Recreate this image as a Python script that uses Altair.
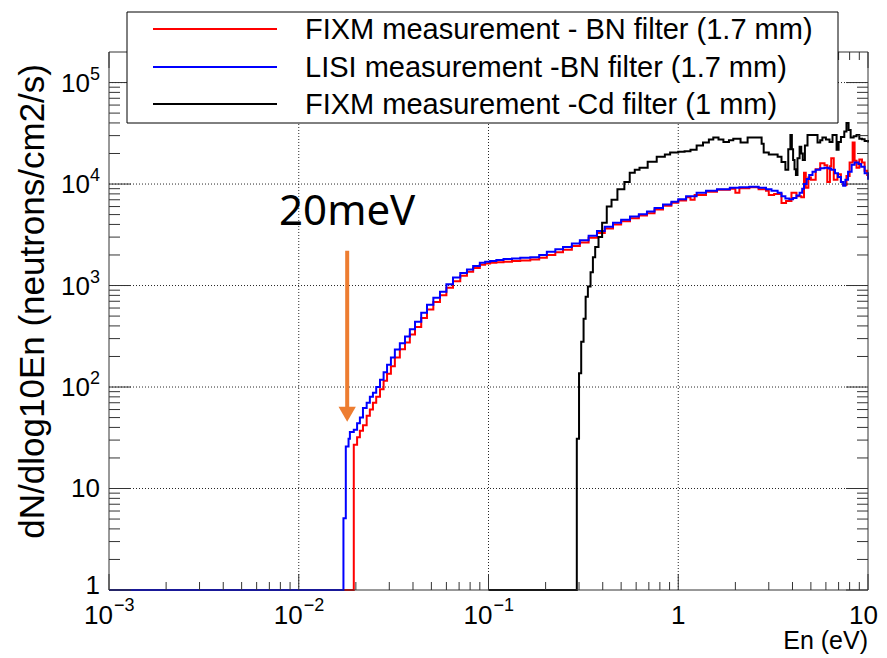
import altair as alt
import pandas as pd

# ---------------- data ----------------
red_E = [0.001, 0.0195, 0.0203, 0.021, 0.0218, 0.0228, 0.0237, 0.0246, 0.0256, 0.0268, 0.028, 0.0292,
         0.0306, 0.0321, 0.0341, 0.0363, 0.0385, 0.041, 0.0442, 0.0474, 0.0512, 0.0555, 0.06, 0.065,
         0.071, 0.077, 0.083, 0.090, 0.096, 0.102, 0.11, 0.12, 0.133, 0.147, 0.166, 0.185, 0.203,
         0.225, 0.247, 0.275, 0.303, 0.337, 0.373, 0.41, 0.453, 0.50, 0.557, 0.62, 0.684, 0.75,
         0.831, 0.92, 1.0, 1.1, 1.16, 1.22, 1.4, 1.6, 1.87, 2.0, 2.1, 2.37, 2.65, 2.9, 3.0, 3.2,
         3.5, 3.7, 3.95, 4.2, 4.45, 4.6, 4.7, 4.85, 5.0, 5.3, 5.6, 5.9, 6.1, 6.3, 6.4, 6.6, 6.9,
         7.2, 7.4, 7.7, 8.0, 8.3, 8.5, 8.7, 9.0, 9.3, 9.6, 9.9, 10.0]
red_v = [1, 27, 32, 37, 42, 52, 60, 70, 80, 95, 115, 135,
         160, 195, 235, 275, 330, 390, 480, 580, 690, 800, 950, 1100,
         1250, 1370, 1490, 1600, 1650, 1680, 1700, 1720, 1740, 1760, 1800, 1880, 2000,
         2130, 2250, 2450, 2650, 2950, 3300, 3650, 4000, 4300, 4600, 4900, 5150, 5600,
         6100, 6550, 6900, 7400, 7000, 7800, 8400, 8800, 9000, 8200, 9100, 9300, 8900, 8600, 7800, 8000,
         6500, 6800, 8200, 7600, 7400, 12900, 9200, 11600, 11000, 14000, 16000, 15300, 10500, 15000, 18000, 11000, 12500,
         10500, 9800, 12000, 16300, 25700, 17000, 14500, 17500, 16300, 13500, 12300, 12000]

blue_E = [0.001, 0.0172, 0.0177, 0.0183, 0.0186, 0.0195, 0.0203, 0.021, 0.0218, 0.0228, 0.0237, 0.0246,
          0.0256, 0.0268, 0.028, 0.0292, 0.0306, 0.0321, 0.0341, 0.0363, 0.0385, 0.041, 0.0442, 0.0474,
          0.0512, 0.0555, 0.06, 0.065, 0.071, 0.077, 0.083, 0.090, 0.096, 0.102, 0.11, 0.12, 0.133,
          0.147, 0.166, 0.185, 0.203, 0.225, 0.247, 0.275, 0.303, 0.337, 0.373, 0.41, 0.453, 0.50,
          0.557, 0.62, 0.684, 0.75, 0.831, 0.92, 1.0, 1.1, 1.25, 1.4, 1.6, 1.87, 2.1, 2.37, 2.65,
          2.9, 3.1, 3.34, 3.5, 3.67, 3.85, 4.03, 4.2, 4.36, 4.5, 4.6, 4.75, 4.9, 5.1, 5.3, 5.6, 5.9,
          6.2, 6.4, 6.7, 6.95, 7.2, 7.4, 7.6, 7.85, 8.2, 8.5, 8.9, 9.2, 9.6, 10.0]
blue_v = [1, 5.1, 26, 31, 36, 38, 44, 50, 62, 70, 80, 88,
          100, 118, 140, 166, 195, 234, 270, 314, 370, 440, 540, 647,
          760, 870, 1030, 1200, 1330, 1440, 1560, 1680, 1720, 1740, 1780, 1830, 1850,
          1880, 1900, 2000, 2150, 2280, 2400, 2600, 2800, 3100, 3450, 3800, 4150, 4450,
          4800, 5050, 5350, 5800, 6300, 6700, 7100, 7600, 8200, 8600, 8900, 9200, 9300, 9400, 9200,
          8900, 8600, 8200, 7600, 7200, 7100, 7300, 7700, 8200, 9000, 10000, 11200, 12300, 13200, 13800, 14300, 14500,
          14200, 13800, 12800, 11700, 10500, 9600, 11000, 13200, 15500, 16300, 15800, 14800, 12800, 11000]

black_E = [0.1, 0.292, 0.300, 0.308, 0.317, 0.325, 0.334, 0.345, 0.355, 0.365, 0.38, 0.397, 0.42,
           0.445, 0.478, 0.52, 0.555, 0.59, 0.625, 0.69, 0.77, 0.85, 0.906, 1.0, 1.08, 1.16, 1.25,
           1.35, 1.45, 1.53, 1.63, 1.73, 1.85, 1.95, 2.13, 2.32, 2.62, 2.75, 2.82, 3.0, 3.34, 3.5,
           3.67, 3.8, 3.9, 3.97, 4.03, 4.1, 4.17, 4.25, 4.36, 4.45, 4.53, 4.65, 4.8, 5.1, 5.42, 5.6,
           5.75, 6.0, 6.27, 6.5, 6.83, 7.0, 7.2, 7.5, 7.7, 7.9, 8.1, 8.4, 8.7, 9.0, 9.3, 9.6, 10.0]
black_v = [1, 31, 137, 280, 470, 775, 980, 1350, 1900, 2400, 3000, 4150, 6000,
           7000, 8900, 10500, 12900, 13800, 14500, 16600, 18600, 19500, 20400, 20800, 21000, 21800, 24000,
           25700, 27500, 28700, 27500, 26000, 27000, 28000, 25700, 28700, 28700, 25000, 20400, 19500, 18600, 16500,
           13800, 22000, 30500, 22000, 17300, 14000, 12300, 18000, 23300, 20000, 17300, 24000, 30500, 30500, 25700, 27000,
           28700, 27500, 26000, 30500, 21800, 26000, 29000, 33000, 40000, 34000, 28700, 29500, 30500, 28000, 27600, 26500, 25700]

legend_labels = ["FIXM measurement - BN filter (1.7 mm)",
                 "LISI measurement -BN filter (1.7 mm)",
                 "FIXM measurement -Cd filter (1 mm)"]
legend_colors = ["#ff0000", "#0000ff", "#000000"]

x_decades = [0.001, 0.01, 0.1, 1, 10]
x_label_base = ["10", "10", "10", "1", "10"]
x_label_exp = ["\u22123", "\u22122", "\u22121", "", ""]
y_decades = [1, 10, 100, 1000, 10000, 100000]
y_label_base = ["1", "10", "10", "10", "10", "10"]
y_label_exp = ["", "", "2", "3", "4", "5"]

annot_text = "20meV"
annot_E = 0.018
arrow_top = 2200
arrow_head = 54

# ---------------- layout ----------------
W, H = 759, 538
FONT = "Liberation Sans"
xs = alt.Scale(type="log", domain=[1e-3, 10], nice=False)
ys = alt.Scale(type="log", domain=[1, 2.0e5], nice=False)


def X(field):
    return alt.X(field, type="quantitative", scale=xs, axis=None)


def Y(field):
    return alt.Y(field, type="quantitative", scale=ys, axis=None)


def series_df(E, v):
    return pd.DataFrame({"E": E, "v": v})


def line(E, v, color):
    return alt.Chart(series_df(E, v)).mark_line(
        interpolate="step-after", color=color, strokeWidth=2
    ).encode(x=X("E"), y=Y("v"))


# dotted grid at decades
gx = pd.DataFrame({"E": x_decades[1:-1]})
gy = pd.DataFrame({"v": y_decades[1:]})
grid_x = alt.Chart(gx).mark_rule(color="#000", strokeWidth=1, strokeDash=[1, 2], opacity=0.85).encode(
    x=X("E"), y=alt.value(0), y2=alt.value(H))
grid_y = alt.Chart(gy).mark_rule(color="#000", strokeWidth=1, strokeDash=[1, 2], opacity=0.85).encode(
    y=Y("v"), x=alt.value(0), x2=alt.value(W))

# ticks
xt = [m * 10 ** k for k in range(-3, 1) for m in range(1, 10)] + [10]
xt_major = [t for t in xt if t in x_decades]
xt_minor = [t for t in xt if t not in x_decades]
yt = [m * 10 ** k for k in range(0, 5) for m in range(1, 10)] + [1e5]
yt_major = [t for t in yt if t in y_decades]
yt_minor = [t for t in yt if t not in y_decades]

TICK = "#333"


def xticks(vals, length):
    d = pd.DataFrame({"E": vals})
    b = alt.Chart(d).mark_rule(color=TICK, strokeWidth=1).encode(
        x=X("E"), y=alt.value(H), y2=alt.value(H - length))
    t = alt.Chart(d).mark_rule(color=TICK, strokeWidth=1).encode(
        x=X("E"), y=alt.value(0), y2=alt.value(length))
    return [b, t]


def yticks(vals, length):
    d = pd.DataFrame({"v": vals})
    l = alt.Chart(d).mark_rule(color=TICK, strokeWidth=1).encode(
        y=Y("v"), x=alt.value(0), x2=alt.value(length))
    r = alt.Chart(d).mark_rule(color=TICK, strokeWidth=1).encode(
        y=Y("v"), x=alt.value(W - length), x2=alt.value(W))
    return [l, r]


# labels
xl = pd.DataFrame({"E": x_decades, "b": x_label_base, "e": x_label_exp})
xl_exp = xl[xl["e"] != ""]
xl_mid = xl[(xl["e"] == "") & (xl["E"] < 10)]
xl_last = xl[(xl["e"] == "") & (xl["E"] >= 10)]
XLB = H + 34
x_lab_base = alt.Chart(xl_exp).mark_text(font=FONT, fontSize=26, align="right", dx=4, baseline="alphabetic").encode(
    x=X("E"), y=alt.value(XLB), text="b:N")
x_lab_exp = alt.Chart(xl_exp).mark_text(font=FONT, fontSize=18, align="left", dx=5, baseline="alphabetic").encode(
    x=X("E"), y=alt.value(XLB - 13), text="e:N")
x_lab_plain = alt.Chart(xl_mid).mark_text(font=FONT, fontSize=26, align="center", baseline="alphabetic").encode(
    x=X("E"), y=alt.value(XLB), text="b:N")
x_lab_last = alt.Chart(xl_last).mark_text(font=FONT, fontSize=26, align="right", dx=10, baseline="alphabetic").encode(
    x=X("E"), y=alt.value(XLB), text="b:N")

yl = pd.DataFrame({"v": y_decades, "b": y_label_base, "e": y_label_exp})
yl_exp = yl[yl["e"] != ""]
yl_plain = yl[yl["e"] == ""]
yl_ten = yl_plain[yl_plain["v"] > 1]
yl_one = yl_plain[yl_plain["v"] <= 1]
y_lab_base = alt.Chart(yl_exp).mark_text(font=FONT, fontSize=26, align="right", dy=9, baseline="alphabetic").encode(
    y=Y("v"), x=alt.value(-19), text="b:N")
y_lab_exp = alt.Chart(yl_exp).mark_text(font=FONT, fontSize=18, align="right", dy=-3, baseline="alphabetic").encode(
    y=Y("v"), x=alt.value(-9), text="e:N")
y_lab_ten = alt.Chart(yl_ten).mark_text(font=FONT, fontSize=26, align="right", dy=8, baseline="alphabetic").encode(
    y=Y("v"), x=alt.value(-9), text="b:N")
y_lab_one = alt.Chart(yl_one).mark_text(font=FONT, fontSize=26, align="right", dy=4, baseline="alphabetic").encode(
    y=Y("v"), x=alt.value(-9), text="b:N")

one = pd.DataFrame({"k": [0]})
y_title = alt.Chart(one).mark_text(font=FONT, fontSize=35, angle=270, align="right", baseline="alphabetic",
                                   text="dN/dlog10En (neutrons/cm2/s)").encode(
    x=alt.value(-65), y=alt.value(12))
x_title = alt.Chart(one).mark_text(font=FONT, fontSize=25, align="right", baseline="alphabetic",
                                   text="En (eV)").encode(x=alt.value(W), y=alt.value(H + 59))

# annotation
adf = pd.DataFrame({"E": [annot_E], "top": [arrow_top], "head": [arrow_head], "t": [annot_text]})
shaft = alt.Chart(adf).mark_rule(color="#ed7d31", strokeWidth=4).encode(
    x=X("E"), y=Y("top"), y2="head:Q")
head = alt.Chart(adf).mark_point(shape="triangle-down", filled=True, color="#ed7d31", size=300, opacity=1).encode(
    x=X("E"), y=Y("head"))
atext = alt.Chart(adf).mark_text(font="Noto Sans", fontSize=42, align="center", baseline="alphabetic",
                                 dy=-2).encode(x=X("E"), y=alt.value(175), text="t:N")

# frame
frame = alt.Chart(one).mark_rect(fillOpacity=0, stroke="#333", strokeWidth=1).encode(
    x=alt.value(0), x2=alt.value(W), y=alt.value(0), y2=alt.value(H))

# legend
rows = [-23, 15, 52]
lbox = alt.Chart(one).mark_rect(fill="white", stroke="black", strokeWidth=1).encode(
    x=alt.value(18), x2=alt.value(729), y=alt.value(-40), y2=alt.value(71))
legend_layers = [lbox]
for lab, col, ry in zip(legend_labels, legend_colors, rows):
    ld = pd.DataFrame({"label": [lab]})
    legend_layers.append(alt.Chart(ld).mark_rule(strokeWidth=2, color=col).encode(
        x=alt.value(44), x2=alt.value(168), y=alt.value(ry)))
    legend_layers.append(alt.Chart(ld).mark_text(font=FONT, fontSize=29, align="left", baseline="middle").encode(
        x=alt.value(196), y=alt.value(ry + 1), text="label:N"))

layers = [grid_x, grid_y,
          line(red_E, red_v, "#ff0000"),
          line(blue_E, blue_v, "#0000ff"),
          line(black_E, black_v, "#000000")]
layers += xticks(xt_major, 16) + xticks(xt_minor, 8) + yticks(yt_major, 22) + yticks(yt_minor, 11)
layers += [frame, x_lab_base, x_lab_exp, x_lab_plain, x_lab_last, y_lab_base, y_lab_exp, y_lab_ten, y_lab_one,
           y_title, x_title, shaft, head, atext]
layers += legend_layers

chart = alt.layer(*layers).properties(
    width=W, height=H,
    padding={"left": 101, "top": 44, "right": 10, "bottom": 64},
    autosize="none",
).configure_view(stroke=None)

chart.save("out.html", embed_options={"renderer": "svg", "actions": False})
